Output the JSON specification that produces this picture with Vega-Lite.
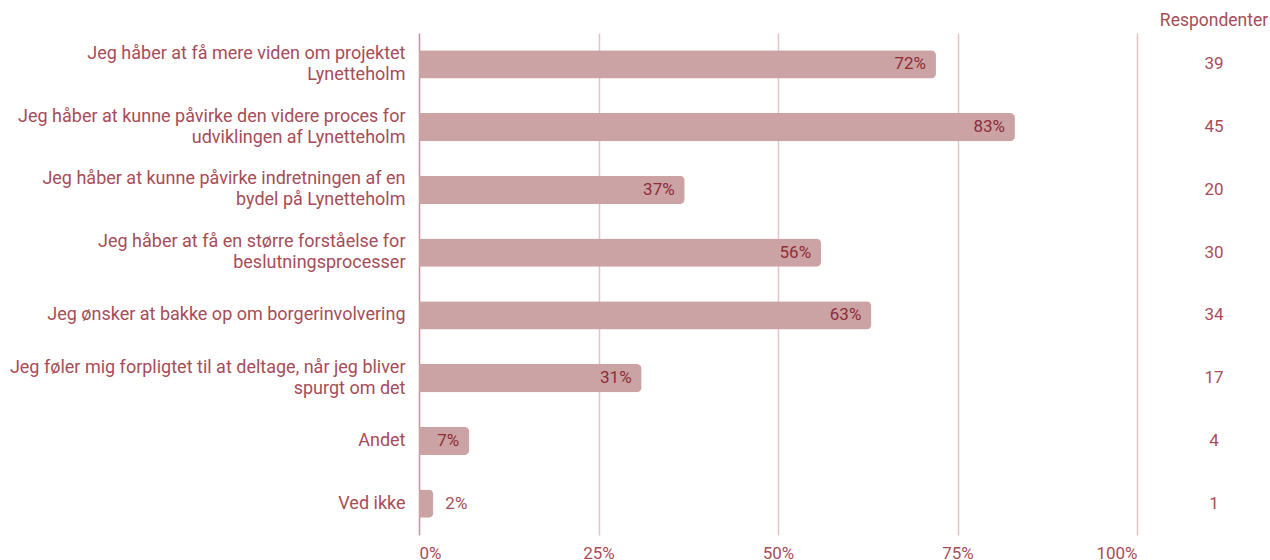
{
  "$schema": "https://vega.github.io/schema/vega-lite/v6.json",
  "padding": {"left": 9, "top": 11, "right": 0, "bottom": 2},
  "bounds": "flush",
  "spacing": 25,
  "config": {
    "view": {"stroke": null},
    "font": "Roboto",
    "text": {"font": "Roboto"}
  },
  "data": {
    "values": [
      {"label": "Jeg håber at få mere viden om projektet|Lynetteholm", "pct": 0.72, "n": 39},
      {"label": "Jeg håber at kunne påvirke den videre proces for|udviklingen af Lynetteholm", "pct": 0.83, "n": 45},
      {"label": "Jeg håber at kunne påvirke indretningen af en|bydel på Lynetteholm", "pct": 0.37, "n": 20},
      {"label": "Jeg håber at få en større forståelse for|beslutningsprocesser", "pct": 0.56, "n": 30},
      {"label": "Jeg ønsker at bakke op om borgerinvolvering", "pct": 0.63, "n": 34},
      {"label": "Jeg føler mig forpligtet til at deltage, når jeg bliver|spurgt om det", "pct": 0.31, "n": 17},
      {"label": "Andet", "pct": 0.07, "n": 4},
      {"label": "Ved ikke", "pct": 0.02, "n": 1}
    ]
  },
  "hconcat": [
    {
      "width": 718,
      "height": 502,
      "encoding": {
        "y": {
          "field": "label",
          "type": "nominal",
          "sort": null,
          "scale": {"paddingInner": 0.55, "paddingOuter": 0.275},
          "axis": {
            "title": null,
            "domain": false,
            "ticks": false,
            "labelExpr": "split(datum.label, '|')",
            "labelOffset": {"condition": {"test": "indexof(datum.label, '|') >= 0", "value": -10.5}, "value": 0},
            "labelFontSize": 18,
            "labelFont": "Roboto",
            "labelColor": "#a64d57",
            "labelPadding": 14,
            "labelLimit": 600,
            "labelLineHeight": 21
          }
        }
      },
      "layer": [
        {
          "mark": {"type": "bar", "color": "#cca3a5", "cornerRadiusEnd": 5},
          "encoding": {
            "x": {
              "field": "pct",
              "type": "quantitative",
              "scale": {"domain": [0, 1], "nice": false},
              "axis": {
                "title": null,
                "values": [0, 0.25, 0.5, 0.75, 1],
                "format": ".0%",
                "labelFlush": true,
                "domain": false,
                "ticks": false,
                "grid": true,
                "gridColor": {"condition": {"test": "datum.value === 0", "value": "#c98f95"}, "value": "#e3c2c5"},
                "gridWidth": 1.5,
                "labelFontSize": 17,
                "labelFont": "Roboto",
                "labelColor": "#a64d57",
                "labelPadding": 10
              }
            }
          }
        },
        {
          "transform": [{"filter": "datum.pct >= 0.05"}],
          "mark": {"type": "text", "align": "right", "baseline": "middle", "dx": -10, "fontSize": 17, "color": "#8e2c37"},
          "encoding": {
            "x": {"field": "pct", "type": "quantitative"},
            "text": {"field": "pct", "type": "quantitative", "format": ".0%"}
          }
        },
        {
          "transform": [{"filter": "datum.pct < 0.05"}],
          "mark": {"type": "text", "align": "left", "baseline": "middle", "dx": 12, "fontSize": 17, "color": "#a64d57"},
          "encoding": {
            "x": {"field": "pct", "type": "quantitative"},
            "text": {"field": "pct", "type": "quantitative", "format": ".0%"}
          }
        }
      ]
    },
    {
      "width": 104,
      "height": 502,
      "title": {"text": "Respondenter", "fontSize": 17.5, "fontWeight": "normal", "color": "#a64d57", "font": "Roboto", "anchor": "middle", "offset": 4},
      "mark": {"type": "text", "baseline": "middle", "fontSize": 17, "color": "#a64d57"},
      "encoding": {
        "y": {
          "field": "label",
          "type": "nominal",
          "sort": null,
          "scale": {"paddingInner": 0.55, "paddingOuter": 0.275},
          "axis": null
        },
        "text": {"field": "n", "type": "quantitative"}
      }
    }
  ]
}
